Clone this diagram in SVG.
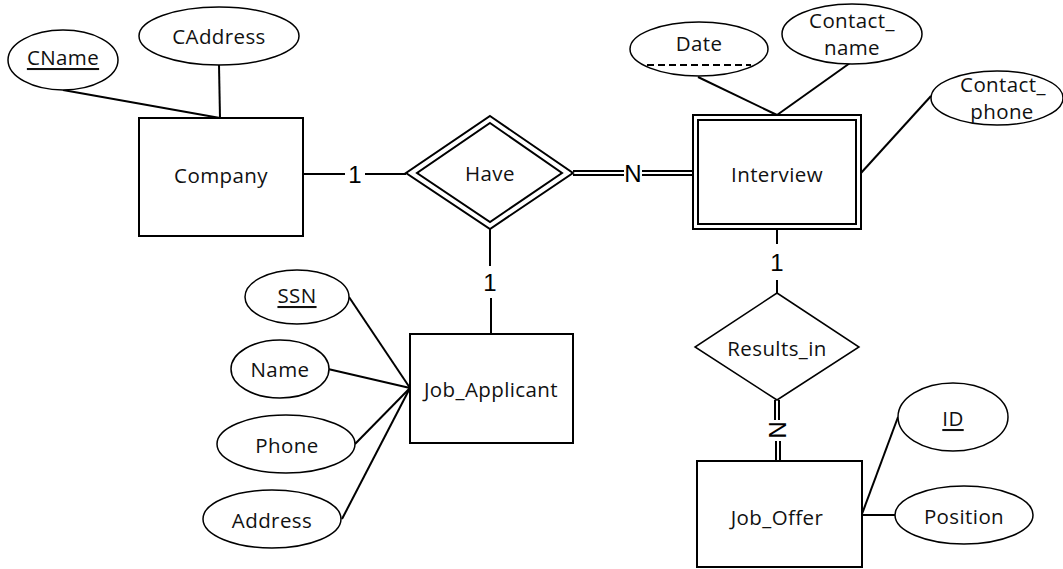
<svg xmlns="http://www.w3.org/2000/svg" width="1063" height="569" viewBox="0 0 1063 569">
<style>
.sh{fill:#fff;stroke:#000;stroke-width:2}
.el{fill:#fff;stroke:#000;stroke-width:1.5}
.ln{stroke:#000;stroke-width:2;fill:none}
.t{font-family:"Open Sans","Liberation Sans",sans-serif;font-size:20.5px;letter-spacing:0.4px;fill:#111;text-anchor:middle;dominant-baseline:central}
.c{font-family:"Liberation Sans",Arial,sans-serif;font-size:24px;fill:#000;text-anchor:middle;dominant-baseline:central}
</style>
<rect width="1063" height="569" fill="#fff"/>
<g id="connectors">
<line class="ln" x1="63" y1="90" x2="220" y2="118"/>
<line class="ln" x1="219" y1="65" x2="220" y2="118"/>
<line class="ln" x1="303" y1="174" x2="345" y2="174"/>
<line class="ln" x1="365" y1="174" x2="406" y2="174"/>
<line class="ln" x1="573" y1="171" x2="624" y2="171"/>
<line class="ln" x1="573" y1="175" x2="624" y2="175"/>
<line class="ln" x1="642" y1="171" x2="695" y2="171"/>
<line class="ln" x1="642" y1="175" x2="695" y2="175"/>
<line class="ln" x1="490" y1="228" x2="490" y2="266"/>
<line class="ln" x1="491" y1="298" x2="491" y2="334"/>
<line class="ln" x1="349" y1="297" x2="410" y2="388"/>
<line class="ln" x1="328" y1="369" x2="410" y2="388"/>
<line class="ln" x1="355" y1="444" x2="410" y2="388"/>
<line class="ln" x1="342" y1="519" x2="410" y2="388"/>
<line class="ln" x1="698" y1="77" x2="777" y2="115"/>
<line class="ln" x1="850" y1="63" x2="777" y2="115"/>
<line class="ln" x1="931" y1="96" x2="861" y2="173"/>
<line class="ln" x1="777" y1="229" x2="777" y2="244"/>
<line class="ln" x1="777" y1="280" x2="777" y2="293"/>
<line class="ln" x1="775" y1="400" x2="775" y2="420"/>
<line class="ln" x1="779" y1="400" x2="779" y2="420"/>
<line class="ln" x1="776" y1="441" x2="776" y2="462"/>
<line class="ln" x1="780" y1="441" x2="780" y2="462"/>
<line class="ln" x1="898" y1="417" x2="862" y2="514"/>
<line class="ln" x1="895" y1="515" x2="862" y2="515"/>
<text class="c" x="355" y="174">1</text>
<text class="c" x="633" y="173">N</text>
<text class="c" x="490" y="282">1</text>
<text class="c" x="777" y="262">1</text>
<text class="c" x="777" y="430" transform="rotate(90 777 430)">N</text>
</g>
<g id="cname"><ellipse class="el" cx="63" cy="60" rx="55" ry="30"/><text class="t" x="63" y="57" text-decoration="underline">CName</text></g>
<g id="caddress"><ellipse class="el" cx="219" cy="36" rx="80" ry="29"/><text class="t" x="219" y="36">CAddress</text></g>
<g id="company"><rect class="sh" x="139" y="118" width="164" height="118"/><text class="t" x="221" y="175">Company</text></g>
<g id="have"><polygon class="sh" points="490,116 573,173 490,229 406,173"/><polygon class="sh" points="490,123 562,173 490,222 417,173"/><text class="t" x="490" y="173">Have</text></g>
<g id="interview"><rect class="sh" x="693" y="115" width="168" height="114"/><rect class="sh" x="698" y="120" width="158" height="104"/><text class="t" x="777" y="174">Interview</text></g>
<g id="date"><ellipse class="el" cx="699" cy="49" rx="69" ry="27"/><line x1="647" y1="65" x2="751" y2="65" stroke="#000" stroke-width="1.8" stroke-dasharray="7,4"/><text class="t" x="699" y="43">Date</text></g>
<g id="contact_name"><ellipse class="el" cx="852" cy="34" rx="70" ry="30"/><text class="t" x="852" y="20">Contact_</text><text class="t" x="852" y="47">name</text></g>
<g id="contact_phone"><ellipse class="el" cx="997" cy="98" rx="66" ry="27"/><text class="t" x="1003" y="84">Contact_</text><text class="t" x="1002" y="111">phone</text></g>
<g id="results_in"><polygon class="el" points="777,293 859,347 777,400 695,347"/><text class="t" x="777" y="348">Results_in</text></g>
<g id="job_offer"><rect class="sh" x="697" y="461" width="165" height="106"/><text class="t" x="777" y="517">Job_Offer</text></g>
<g id="id"><ellipse class="el" cx="953" cy="417" rx="55" ry="34"/><text class="t" x="953" y="418" text-decoration="underline">ID</text></g>
<g id="position"><ellipse class="el" cx="964" cy="515" rx="69" ry="29"/><text class="t" x="964" y="516">Position</text></g>
<g id="job_applicant"><rect class="sh" x="410" y="334" width="163" height="109"/><text class="t" x="491" y="389">Job_Applicant</text></g>
<g id="ssn"><ellipse class="el" cx="297" cy="297" rx="52" ry="27"/><text class="t" x="297" y="295" text-decoration="underline">SSN</text></g>
<g id="name"><ellipse class="el" cx="280" cy="369" rx="49" ry="29"/><text class="t" x="280" y="369">Name</text></g>
<g id="phone"><ellipse class="el" cx="286" cy="444" rx="69" ry="29"/><text class="t" x="287" y="445">Phone</text></g>
<g id="address"><ellipse class="el" cx="272" cy="519" rx="69" ry="29"/><text class="t" x="272" y="520">Address</text></g>
</svg>
